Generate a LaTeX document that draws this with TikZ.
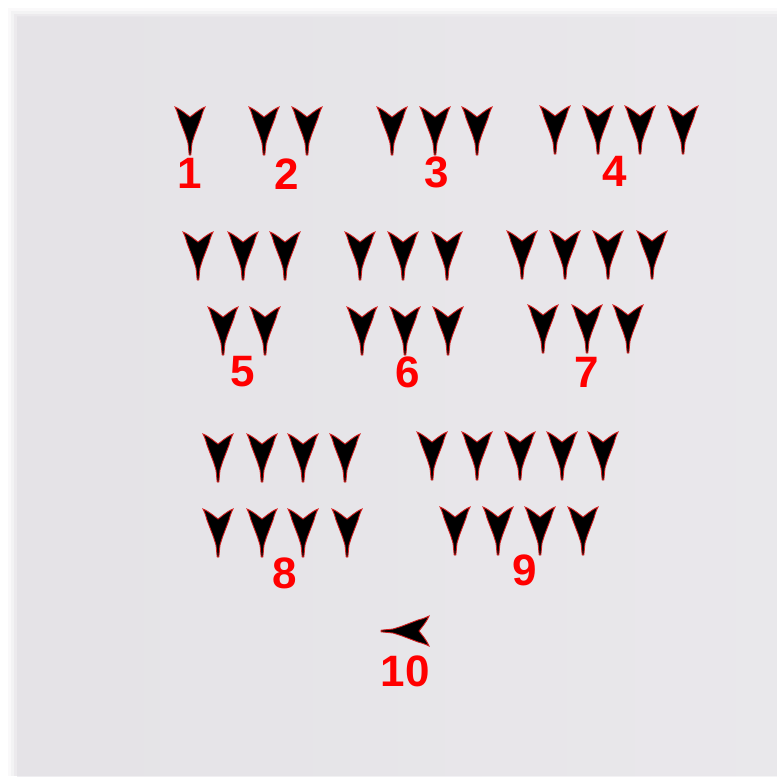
\documentclass[tikz,border=0pt]{standalone}
\usepackage{fontspec}
\setmainfont{Liberation Sans}
\definecolor{paper}{RGB}{229,227,231}
\definecolor{paperlight}{RGB}{237,236,239}
\definecolor{wedgeedge}{RGB}{215,30,30}
\tikzset{
  numlab/.style={text=red,font=\bfseries\fontsize{12.5}{14}\selectfont,inner sep=0pt},
  wedge/.pic={
    \fill[black,draw=wedgeedge,line width=0.25pt]
      (-15,-1) .. controls (-8,2) and (-3,7) .. (0,9) .. controls (3,7) and (8,2) .. (15,-1)
      .. controls (13,3) and (12,6) .. (11,10) -- (4.5,27) -- (2,35) -- (0.8,47) -- (-0.8,47)
      -- (-2,35) -- (-4.5,27) -- (-11,10) .. controls (-12,6) and (-13,3) .. (-15,-1) -- cycle;
  }
}
\begin{document}
\begin{tikzpicture}[x=0.01cm,y=-0.01cm]
\useasboundingbox (0,0) rectangle (777,776);
\fill[white] (0,0) rectangle (777,776);
% soft edge of the paper
\foreach \d/\c in {8/20,11/45,14/75,17/100}{
  \fill[paper!\c!white] (\d,\d) rectangle (777,776);
}
\shade[left color=paper,right color=paperlight,opacity=0.6] (17,17) rectangle (777,776);
\foreach \x/\y in {190/108,
  264/108,307/108,
  392/108,435/108,477/108,
  555/107,598/107,640/107,683/107,
  198/233,243/233,285/233,223/308,265/308,
  360/233,403/233,447/233,362/308,405/308,448/308,
  522/232,565/232,608/232,652/232,543/306,587/306,628/306,
  218/435,262/435,303/435,345/435,218/510,262/510,303/510,347/510,
  432/433,477/433,520/433,562/433,603/433,455/508,498/508,540/508,583/508}{
  \pic at (\x,\y) {wedge};
}
\pic[rotate=-90] at (428,631) {wedge};
\foreach \n/\x/\y in {1/190/173,2/287/174,3/437/172,4/615/171,5/243/372,
  6/408/372,7/587/372,8/285/573,9/525/570,10/405/671}{
  \node[numlab] (n\n) at (\x,\y) {\n};
}
\end{tikzpicture}
\end{document}
